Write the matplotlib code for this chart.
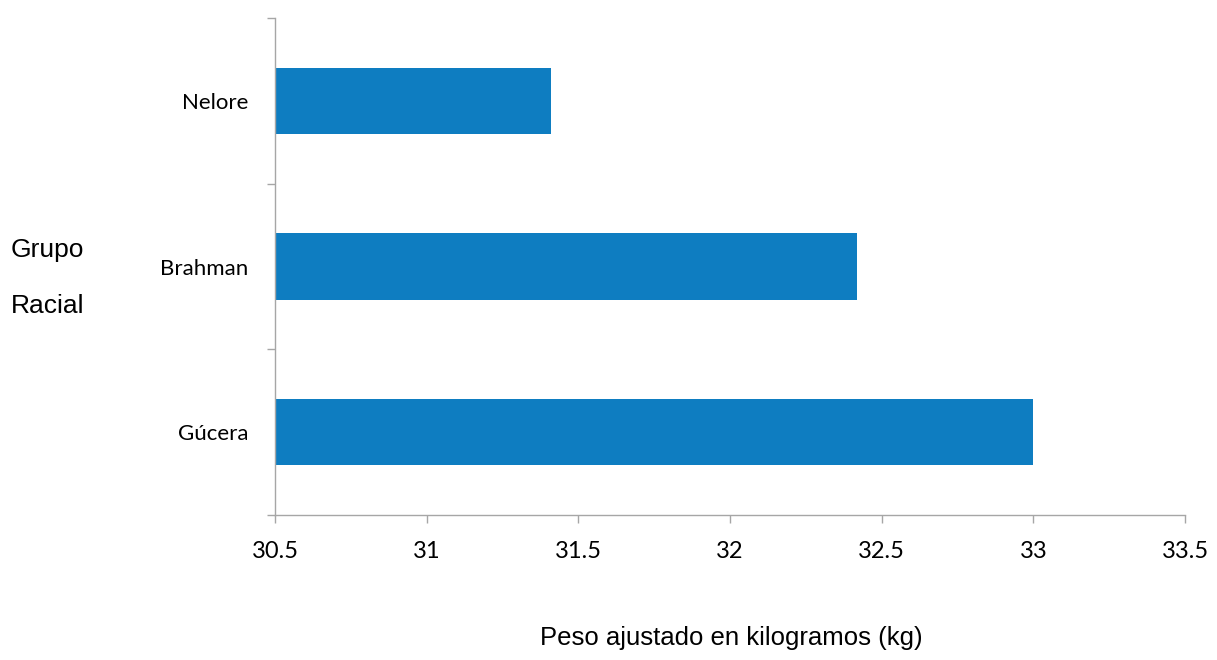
import numpy as np
import matplotlib.pyplot as plt
from matplotlib.ticker import FixedLocator

# data
razas = ['Gúcera', 'Brahman', 'Nelore']
peso = [33.0, 32.42, 31.41]
xticks = [30.5, 31, 31.5, 32, 32.5, 33, 33.5]

bar_color = '#0E7DC1'
axis_color = '#A6A6A6'

fig = plt.figure(figsize=(12.17, 6.6), dpi=100)
ax = fig.add_axes([0.226, 0.2197, 0.7477, 0.7530])

y = np.arange(len(razas))
ax.barh(y, peso, height=0.4, color=bar_color, left=0)
ax.set_xlim(30.5, 33.5)
ax.set_ylim(-0.5, len(razas) - 0.5)

ax.set_xticks(xticks)
ax.set_xticklabels([f'{v:g}' for v in xticks], fontfamily='Lato', fontsize=17)
ax.set_yticks(y)
ax.set_yticklabels(razas, fontfamily='Lato', fontsize=16)
ax.yaxis.set_minor_locator(FixedLocator(np.arange(-0.5, len(razas), 1.0)))

ax.tick_params(axis='y', which='major', length=0, pad=19)
ax.tick_params(axis='y', which='minor', length=6, width=1, color=axis_color, direction='out')
ax.tick_params(axis='x', which='major', length=6, width=1, color=axis_color, direction='out', pad=13)

for side in ['top', 'right']:
    ax.spines[side].set_visible(False)
for side in ['left', 'bottom']:
    ax.spines[side].set_color(axis_color)
    ax.spines[side].set_linewidth(1)

fig.text(731 / 1217, 1 - 638 / 660, 'Peso ajustado en kilogramos (kg)', ha='center', va='center',
         fontfamily='Liberation Sans', fontsize=18.5)
fig.text(0.009, 1 - 250 / 660, 'Grupo', ha='left', va='center',
         fontfamily='Liberation Sans', fontsize=19)
fig.text(0.009, 1 - 306 / 660, 'Racial', ha='left', va='center',
         fontfamily='Liberation Sans', fontsize=19)

fig.savefig('out.png', dpi=100)
